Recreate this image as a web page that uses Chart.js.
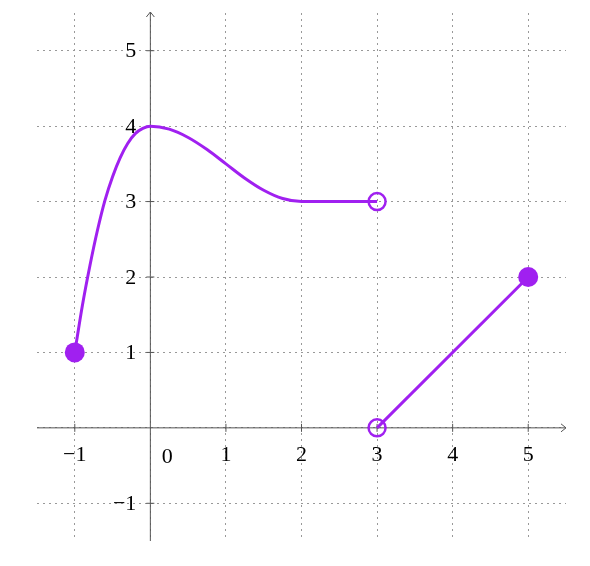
<!DOCTYPE html>
<html>
<head>
<meta charset="utf-8">
<script src="https://cdn.jsdelivr.net/npm/chart.js@4/dist/chart.umd.min.js"></script>
<style>
    body { margin: 0; background: #fff; }
    #wrap { width: 590px; height: 566px; }
</style>
</head>
<body>
<div id="wrap"><canvas id="chart"></canvas></div>
<script>
// Data
const curveX = [-1, -0.9, -0.8, -0.7, -0.6, -0.5, -0.4, -0.3, -0.2, -0.1, 0, 0.25, 0.5, 0.75, 1, 1.25, 1.5, 1.75, 2, 3];
const curveY = [1, 1.62, 2.15, 2.62, 3.02, 3.33, 3.58, 3.77, 3.9, 3.97, 4, 3.96, 3.85, 3.69, 3.5, 3.31, 3.15, 3.04, 3, 3];
const segmentX = [3, 5];
const segmentY = [0, 2];
const filledX = [-1, 5];
const filledY = [1, 2];
const openX = [3, 3];
const openY = [3, 0];
const gridValues = [-1, 0, 1, 2, 3, 4, 5];
const xTicks = [-1, 1, 2, 3, 4, 5];
const yTicks = [-1, 1, 2, 3, 4, 5];
const xTickLabels = ['\u22121', '1', '2', '3', '4', '5'];
const yTickLabels = ['\u22121', '1', '2', '3', '4', '5'];
const originLabel = '0';

const PURPLE = '#A020F0';
const FONT = '22px "Liberation Serif", "DejaVu Serif", serif';

const toPoints = (xs, ys) => xs.map((x, i) => ({ x: x, y: ys[i] }));

// Draw the axes through the origin, with arrows, tick marks and labels
const axesPlugin = {
    id: 'axes',
    beforeDatasetsDraw(chart) {
        const ctx = chart.ctx;
        const xs = chart.scales.x;
        const ys = chart.scales.y;
        const x0 = xs.getPixelForValue(0);
        const y0 = ys.getPixelForValue(0);

        ctx.save();
        ctx.strokeStyle = '#555';
        ctx.lineWidth = 1;

        // x axis
        ctx.beginPath();
        ctx.moveTo(xs.left, y0);
        ctx.lineTo(xs.right, y0);
        ctx.moveTo(xs.right - 5, y0 - 4);
        ctx.lineTo(xs.right, y0);
        ctx.lineTo(xs.right - 5, y0 + 4);
        ctx.stroke();

        // y axis
        ctx.beginPath();
        ctx.moveTo(x0, ys.bottom);
        ctx.lineTo(x0, ys.top - 1);
        ctx.moveTo(x0 - 4, ys.top + 4);
        ctx.lineTo(x0, ys.top - 1);
        ctx.lineTo(x0 + 4, ys.top + 4);
        ctx.stroke();

        // tick marks
        ctx.beginPath();
        xTicks.forEach(v => {
            const px = xs.getPixelForValue(v);
            ctx.moveTo(px, y0 - 4);
            ctx.lineTo(px, y0 + 4);
        });
        yTicks.forEach(v => {
            const py = ys.getPixelForValue(v);
            ctx.moveTo(x0 - 4, py);
            ctx.lineTo(x0 + 4, py);
        });
        ctx.stroke();

        // labels
        ctx.fillStyle = '#000';
        ctx.font = FONT;
        ctx.textBaseline = 'middle';
        ctx.textAlign = 'center';
        xTicks.forEach((v, i) => {
            ctx.fillText(xTickLabels[i], xs.getPixelForValue(v), y0 + 27);
        });
        ctx.textAlign = 'right';
        yTicks.forEach((v, i) => {
            ctx.fillText(yTickLabels[i], x0 - 14, ys.getPixelForValue(v) + 1);
        });
        ctx.textAlign = 'center';
        ctx.fillText(originLabel, x0 + 17, y0 + 29);
        ctx.restore();
    }
};

const gridOpts = {
    grid: { color: '#999', lineWidth: 1, drawTicks: false },
    border: { display: false, dash: [2, 4] },
    ticks: { display: false },
    afterBuildTicks: scale => {
        scale.ticks = gridValues.map(v => ({ value: v }));
    }
};

new Chart(document.getElementById('chart'), {
    type: 'scatter',
    data: {
        datasets: [
            {
                data: toPoints(filledX, filledY),
                pointRadius: 10,
                pointBackgroundColor: PURPLE,
                pointBorderWidth: 0,
                showLine: false,
                order: 0
            },
            {
                data: toPoints(openX, openY),
                pointRadius: 8.5,
                pointBackgroundColor: 'rgba(0,0,0,0)',
                pointBorderColor: PURPLE,
                pointBorderWidth: 2.5,
                showLine: false,
                order: 0
            },
            {
                data: toPoints(curveX, curveY),
                showLine: true,
                borderColor: PURPLE,
                borderWidth: 3,
                pointRadius: 0,
                cubicInterpolationMode: 'monotone',
                order: 1
            },
            {
                data: toPoints(segmentX, segmentY),
                showLine: true,
                borderColor: PURPLE,
                borderWidth: 3,
                pointRadius: 0,
                order: 1
            }
        ]
    },
    options: {
        responsive: true,
        maintainAspectRatio: false,
        animation: false,
        layout: { padding: { left: 37, right: 24, top: 13, bottom: 25 } },
        plugins: {
            legend: { display: false },
            tooltip: { enabled: false }
        },
        scales: {
            x: Object.assign({ type: 'linear', min: -1.5, max: 5.5 }, gridOpts),
            y: Object.assign({ type: 'linear', min: -1.5, max: 5.5 }, gridOpts)
        }
    },
    plugins: [axesPlugin]
});
</script>
</body>
</html>
